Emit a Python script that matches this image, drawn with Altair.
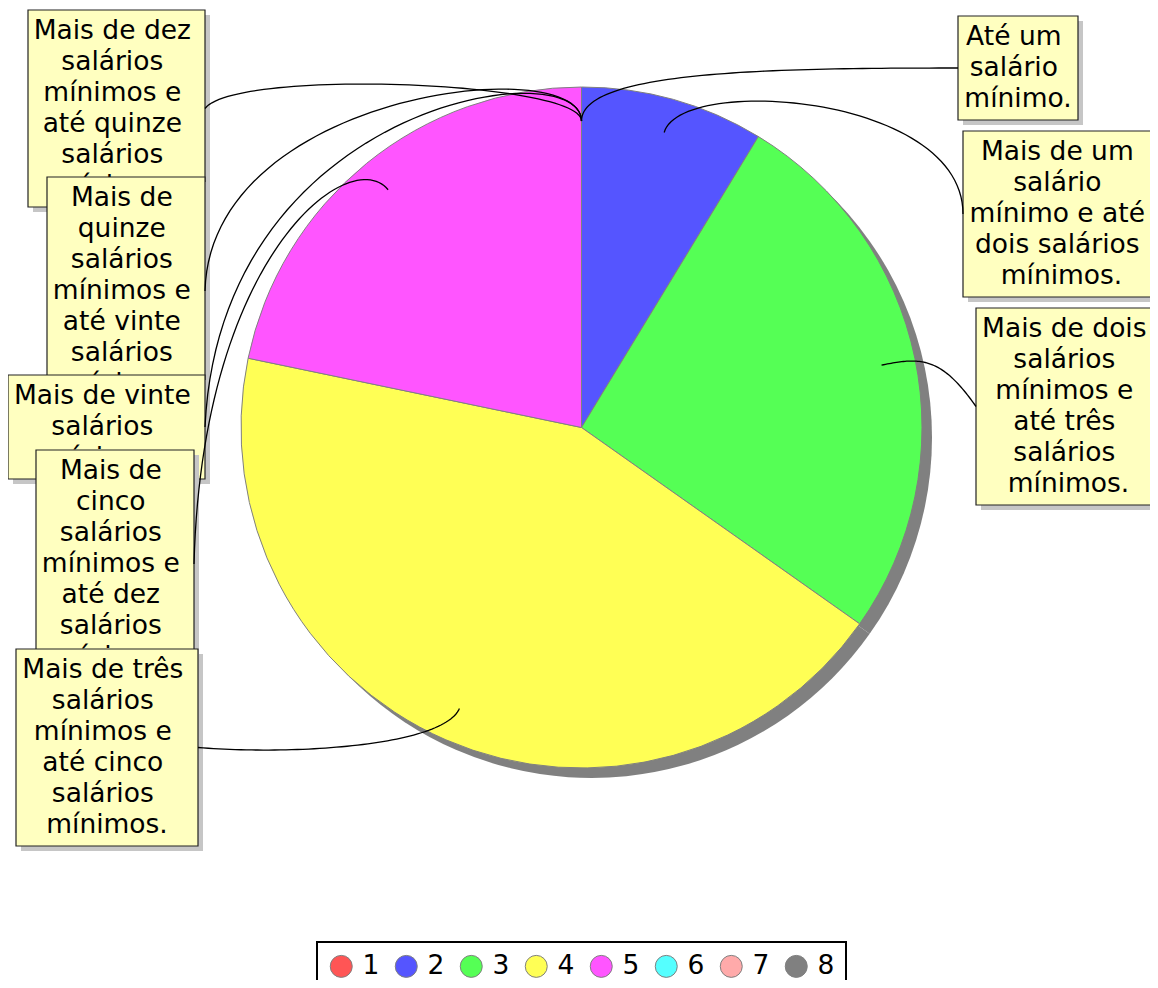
import altair as alt
import numpy as np
import pandas as pd

# ---------------- data ----------------
categories = ["1", "2", "3", "4", "5", "6", "7", "8"]
counts = [0, 2, 6, 10, 5, 0, 0, 0]
colors = ["#ff5555", "#5555ff", "#55ff55", "#ffff55", "#ff55ff", "#55ffff", "#ffaaaa", "#808080"]
label_lines = [
    ["Até um", "salário", "mínimo."],
    ["Mais de um", "salário", "mínimo e até", "dois salários", "mínimos."],
    ["Mais de dois", "salários", "mínimos e", "até três", "salários", "mínimos."],
    ["Mais de três", "salários", "mínimos e", "até cinco", "salários", "mínimos."],
    ["Mais de", "cinco", "salários", "mínimos e", "até dez", "salários", "mínimos."],
    ["Mais de dez", "salários", "mínimos e", "até quinze", "salários", "mínimos."],
    ["Mais de", "quinze", "salários", "mínimos e", "até vinte", "salários", "mínimos."],
    ["Mais de vinte", "salários", "mínimos."],
]

# ---------------- layout (pixel positions on the page) ----------------
MARGIN = 8
VIEW_W, VIEW_H = 1142, 972
CX, CY, R = 581.5, 427.5, 340.5
SHADOW_OFF = 10
ANCHOR_FRAC = 0.9
box_left = [958, 963, 976, 16, 36, 28, 47, 8]
box_top = [16, 131, 308, 649, 450, 10, 177, 375]
box_right = [1078, 1160, 1161, 198, 194, 205, 205, 205]
attach_right_side = [False, False, False, True, True, True, True, True]
draw_order = [5, 6, 7, 4, 3, 0, 1, 2]
LINE_H, BOX_PAD_V, FIRST_BASE = 31, 11, 29
TRAIL_SHIFT = 4.2   # wrapped lines keep a trailing space -> centred half a space to the left
anchor_len = [50, 60, 40, 40, 60, 40, 70, 70]
handle_dx = [-190, 0, -35, 100, 8, 30, 5, 15]
handle_dy = [0, -120, -50, 8, -310, -40, -200, -327]
BOX_SHADOW = 5

# ---------------- derived tables ----------------
pie_df = pd.DataFrame({"cat": categories, "n": counts, "idx": list(range(len(categories)))})

tot = float(sum(counts))
cum = np.concatenate([[0.0], np.cumsum(counts)]) / tot * 2 * np.pi
mid = (cum[:-1] + cum[1:]) / 2

boxes, text_rows = [], []
for i, lines in enumerate(label_lines):
    h = BOX_PAD_V + LINE_H * len(lines)
    cxb = (box_left[i] + box_right[i]) / 2
    boxes.append({
        "i": i,
        "l": box_left[i], "r": box_right[i], "t": box_top[i], "b": box_top[i] + h,
        "sl": box_left[i] + BOX_SHADOW, "sr": box_right[i] + BOX_SHADOW,
        "st": box_top[i] + BOX_SHADOW, "sb": box_top[i] + h + BOX_SHADOW,
    })
    for j, line in enumerate(lines):
        text_rows.append({
            "i": i, "j": j, "txt": line,
            "tx": cxb - (TRAIL_SHIFT if j < len(lines) - 1 else 0),
            "ty": box_top[i] + FIRST_BASE + LINE_H * j,
        })
box_df = pd.DataFrame(boxes)
text_df = pd.DataFrame(text_rows)

rows = []
ts = np.linspace(0, 1, 60)
for i in range(len(categories)):
    ux, uy = np.sin(mid[i]), -np.cos(mid[i])
    A = np.array([CX + ANCHOR_FRAC * R * ux, CY + ANCHOR_FRAC * R * uy])
    b = boxes[i]
    B = np.array([b["r"] if attach_right_side[i] else b["l"], (b["t"] + b["b"]) / 2])
    P1 = A + anchor_len[i] * np.array([ux, uy])
    P2 = B + np.array([handle_dx[i], handle_dy[i]])
    for k, t in enumerate(ts):
        p = (1 - t) ** 3 * A + 3 * (1 - t) ** 2 * t * P1 + 3 * (1 - t) * t ** 2 * P2 + t ** 3 * B
        rows.append({"cid": i, "k": k, "x": p[0], "y": p[1]})
conn_df = pd.DataFrame(rows)

# ---------------- chart ----------------
xs = alt.Scale(domain=[MARGIN, MARGIN + VIEW_W], nice=False, zero=False)
ys = alt.Scale(domain=[MARGIN, MARGIN + VIEW_H], nice=False, zero=False, reverse=True)
FONT = "DejaVu Sans"


def X(f):
    return alt.X(f, type="quantitative", scale=xs, axis=None)


def Y(f):
    return alt.Y(f, type="quantitative", scale=ys, axis=None)


theta = alt.Theta("n:Q", stack=True)
order = alt.Order("idx:Q")

pie_shadow = alt.Chart(pie_df).mark_arc(radius=R, fill="#808080", strokeWidth=0).encode(
    theta=theta, order=order,
    x=alt.value(CX + SHADOW_OFF - MARGIN), y=alt.value(CY + SHADOW_OFF - MARGIN),
)

pie = alt.Chart(pie_df).mark_arc(radius=R, stroke="#808080", strokeWidth=1).encode(
    theta=theta, order=order,
    color=alt.Color(
        "cat:N",
        scale=alt.Scale(domain=categories, range=colors),
        legend=alt.Legend(
            orient="none", legendX=309, legendY=934, direction="horizontal", title=None,
            strokeColor="black", fillColor="white", padding=11,
            symbolType="circle", symbolSize=484, symbolStrokeColor="#808080",
            symbolStrokeWidth=1, symbolOpacity=1, labelFont=FONT, labelFontSize=26.5,
            labelColor="black", labelOffset=8, columnPadding=13,
        ),
    ),
    x=alt.value(CX - MARGIN), y=alt.value(CY - MARGIN),
)

layers = [pie_shadow, pie]
for i in draw_order:
    sub = alt.Chart(box_df).transform_filter(alt.datum.i == i)
    layers.append(sub.mark_rect(fill="#c6c6c6").encode(x=X("sl"), x2="sr", y=Y("st"), y2="sb"))
    layers.append(sub.mark_rect(fill="#ffffc0", stroke="#222222", strokeWidth=1.2).encode(
        x=X("l"), x2="r", y=Y("t"), y2="b"))
    layers.append(
        alt.Chart(text_df).transform_filter(alt.datum.i == i)
        .mark_text(align="center", baseline="alphabetic", font=FONT, fontSize=26.5, color="black")
        .encode(x=X("tx"), y=Y("ty"), text="txt:N")
    )

connectors = alt.Chart(conn_df).mark_line(color="black", strokeWidth=1.3).encode(
    x=X("x"), y=Y("y"), detail="cid:N", order="k:Q")
layers.append(connectors)

chart = alt.layer(*layers).properties(
    width=VIEW_W, height=VIEW_H, padding=0,
    autosize=alt.AutoSizeParams(type="none"),
).configure_view(stroke=None).configure_legend(strokeWidth=2)

chart.save("out.html", embed_options={"renderer": "svg", "actions": False})
